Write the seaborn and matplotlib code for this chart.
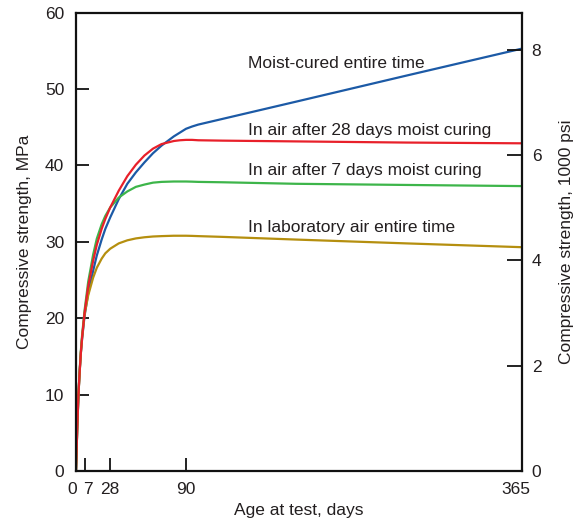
import matplotlib
matplotlib.use("Agg")
import matplotlib.pyplot as plt
import matplotlib.transforms as mtransforms
import seaborn as sns
import pandas as pd

days = [0, 1, 2, 3, 4, 5, 7, 10, 14, 17, 21, 24, 28, 35, 42, 49, 56, 63, 70, 80, 85, 90, 95, 100, 120, 180, 270, 365]
moist_cured = [0, 5.5, 10, 13, 15.5, 17.3, 20.3, 23.3, 26.2, 28.2, 30.3, 31.7, 33.2, 35.6, 37.6, 39.1, 40.4, 41.6, 42.6, 43.8, 44.3, 44.8, 45.1, 45.35, 46.1, 48.35, 51.75, 55.3]
air_after_28 = [0, 5.5, 10, 13, 15.5, 17.5, 20.7, 24.2, 27.5, 29.6, 31.7, 33.0, 34.5, 36.7, 38.6, 40.1, 41.3, 42.2, 42.8, 43.2, 43.3, 43.35, 43.35, 43.3, 43.25, 43.15, 43.0, 42.9]
air_after_7 = [0, 5.5, 10, 13.2, 15.8, 17.8, 21.0, 24.8, 28.3, 30.4, 32.3, 33.4, 34.5, 35.8, 36.6, 37.2, 37.5, 37.75, 37.85, 37.9, 37.9, 37.9, 37.88, 37.85, 37.8, 37.6, 37.45, 37.3]
lab_air = [0, 5.5, 10, 13, 15.5, 17.5, 20.5, 23.0, 25.3, 26.6, 27.8, 28.5, 29.1, 29.8, 30.2, 30.45, 30.6, 30.7, 30.75, 30.8, 30.8, 30.8, 30.78, 30.75, 30.65, 30.3, 29.8, 29.3]

series_names = ["Moist-cured entire time", "In air after 7 days moist curing",
                "In laboratory air entire time", "In air after 28 days moist curing"]
series_values = [moist_cured, air_after_7, lab_air, air_after_28]
colors = ["#1c5aa6", "#3db54a", "#b58f0f", "#e8202a"]

x_ticks = [0, 7, 28, 90, 365]
y_ticks = [0, 10, 20, 30, 40, 50, 60]
psi_ticks = [0, 2, 4, 6, 8]

label_pos = {
    "Moist-cured entire time": 52.8,
    "In air after 28 days moist curing": 44.0,
    "In air after 7 days moist curing": 38.7,
    "In laboratory air entire time": 31.3,
}

rows = []
for name, vals in zip(series_names, series_values):
    for d, v in zip(days, vals):
        rows.append({"days": d, "strength": v, "series": name})
df = pd.DataFrame(rows)

sns.set_theme(style="white")
plt.rcParams["font.family"] = ["Liberation Sans", "DejaVu Sans"]
txt = "#231f20"

fig = plt.figure(figsize=(5.79, 5.21), dpi=100)
ax = fig.add_axes([76 / 579, 1 - 471 / 521, (522 - 76) / 579, (471 - 12.7) / 521])

sns.lineplot(data=df, x="days", y="strength", hue="series", hue_order=series_names,
             palette=colors, linewidth=1.6, legend=False, ax=ax)

ax.set_xlim(0, 365)
ax.set_ylim(0, 60)
ax.set_xticks(x_ticks)
ax.set_xticklabels([str(t) for t in x_ticks])
ax.set_yticks(y_ticks)
ax.set_yticklabels([str(t) for t in y_ticks])
for s in ax.spines.values():
    s.set_linewidth(1.6)
    s.set_color("#111111")
    s.set_visible(True)
ax.tick_params(axis="both", direction="in", length=9.5, width=1.3, color="#111111",
               labelsize=12.5, labelcolor=txt, left=True, bottom=True)
ax.tick_params(axis="y", pad=8.5)
ax.tick_params(axis="x", pad=8)
ax.set_xlabel("Age at test, days", fontsize=12.5, color=txt, labelpad=4)
ax.set_ylabel("Compressive strength, MPa", fontsize=12.5, color=txt, labelpad=9.5)

# nudge the crowded "0" and "7" labels apart, as in the reference
xlabels = ax.get_xticklabels()
shifts = {"0": -4, "7": 3, "365": -6}
for lab in xlabels:
    dx = shifts.get(lab.get_text(), 0)
    if dx:
        lab.set_transform(lab.get_transform() + mtransforms.ScaledTranslation(dx / 100, 0, fig.dpi_scale_trans))

for name, yv in label_pos.items():
    ax.text(140.7, yv, name, fontsize=12.5, color=txt, ha="left", va="baseline")

ax2 = ax.twinx()
ax2.set_ylim(0, 60 / 6.895)
ax2.set_yticks(psi_ticks)
ax2.set_yticklabels([str(t) for t in psi_ticks])
ax2.tick_params(axis="y", direction="in", length=10.5, width=1.3, color="#111111",
                labelsize=12.5, labelcolor=txt, right=True, pad=7)
for s in ax2.spines.values():
    s.set_visible(False)
ax2.grid(False)
ax2.set_ylabel("Compressive strength, 1000 psi", fontsize=12.5, color=txt, labelpad=13)

fig.savefig("out.png", dpi=100)
